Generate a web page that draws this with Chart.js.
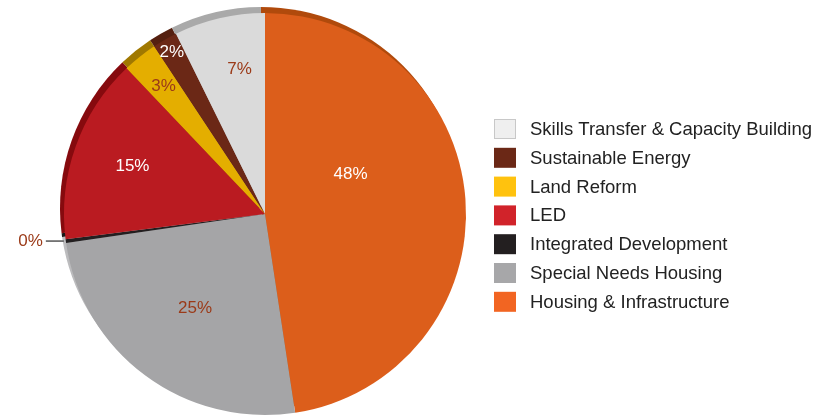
<!DOCTYPE html>
<html>
<head>
<meta charset="utf-8">
<script src="https://cdn.jsdelivr.net/npm/chart.js@4"></script>
<style>
  html, body { margin: 0; padding: 0; background: #fff; }
  #wrap { width: 829px; height: 416px; position: relative; }
</style>
</head>
<body>
<div id="wrap"><canvas id="pieChart" width="829" height="416"></canvas></div>
<script>
// data, clockwise from 12 o'clock
const labels = ['Housing & Infrastructure', 'Special Needs Housing', 'Integrated Development',
                'LED', 'Land Reform', 'Sustainable Energy', 'Skills Transfer & Capacity Building'];
const values = [47.6, 25.1, 0.3, 14.9, 2.8, 2.0, 7.3];
const pctText = ['48%', '25%', '0%', '15%', '3%', '2%', '7%'];

// colours
const faceColors = ['#dc5e1b', '#a5a5a7', '#231f20', '#ba1b21', '#e4ae00', '#6b2816', '#dadada'];
const edgeColors = ['#b04a0c', '#bcbcbe', '#1a1717', '#860a0e', '#a07800', '#552010', '#a9a9a9'];
const legendColors = ['#f26522', '#a7a7a9', '#231f20', '#d1232a', '#ffc20e', '#6b2816', '#efefef'];
const labelColors = ['#ffffff', '#9b3a18', '#9b3a18', '#ffffff', '#9b3a18', '#ffffff', '#9b3a18'];
// label placement: fraction of radius, and angle (deg from top) override or null for mid
const labelFrac = [0.47, 0.585, 0, 0.70, 0.81, 0.93, 0.73];
const labelAngle = [65, null, null, null, null, null, 350];

const pieExtras = {
  id: 'pieExtras',
  beforeDatasetsDraw(chart) {
    // darker rim offset up-left
    const c = chart.ctx;
    const arcs = chart.getDatasetMeta(0).data;
    arcs.forEach((a, i) => {
      const p = a.getProps(['x', 'y', 'startAngle', 'endAngle', 'outerRadius'], true);
      const cx = p.x - 4, cy = p.y - 6;
      c.save();
      c.beginPath();
      c.moveTo(cx, cy);
      c.arc(cx, cy, p.outerRadius, p.startAngle, p.endAngle);
      c.closePath();
      c.fillStyle = edgeColors[i];
      c.fill();
      c.restore();
    });
  },
  afterDatasetsDraw(chart) {
    const c = chart.ctx;
    const arcs = chart.getDatasetMeta(0).data;
    c.save();
    c.font = '17px "Liberation Sans", Arial, sans-serif';
    c.textBaseline = 'middle';
    arcs.forEach((a, i) => {
      const p = a.getProps(['x', 'y', 'startAngle', 'endAngle', 'outerRadius'], true);
      let ang = (p.startAngle + p.endAngle) / 2;
      if (labelAngle[i] !== null) ang = (labelAngle[i] - 90) * Math.PI / 180;
      if (labelFrac[i] === 0) {
        // tiny slice: label outside with leader line
        const ex = p.x + Math.cos(ang) * p.outerRadius;
        const ey = p.y + Math.sin(ang) * p.outerRadius;
        c.strokeStyle = '#555';
        c.lineWidth = 1.5;
        c.beginPath();
        c.moveTo(ex - 2, ey);
        c.lineTo(ex - 20, ey);
        c.stroke();
        c.fillStyle = labelColors[i];
        c.textAlign = 'right';
        c.fillText(pctText[i], ex - 23, ey);
        return;
      }
      const tx = p.x + Math.cos(ang) * p.outerRadius * labelFrac[i];
      const ty = p.y + Math.sin(ang) * p.outerRadius * labelFrac[i];
      c.fillStyle = labelColors[i];
      c.textAlign = 'center';
      c.fillText(pctText[i], tx, ty);
    });
    c.restore();

    // legend (reverse order)
    c.save();
    c.font = '18.5px "Liberation Sans", Arial, sans-serif';
    c.textBaseline = 'middle';
    c.textAlign = 'left';
    const lx = 494, ly = 119, step = 28.8;
    for (let k = 0; k < labels.length; k++) {
      const i = labels.length - 1 - k;
      const y = ly + k * step;
      c.fillStyle = legendColors[i];
      c.fillRect(lx, y, 22, 20);
      if (i === labels.length - 1) {
        c.strokeStyle = '#c8c8c8';
        c.lineWidth = 1;
        c.strokeRect(lx + 0.5, y + 0.5, 21, 19);
      }
      c.fillStyle = '#222';
      c.fillText(labels[i], lx + 36, y + 11);
    }
    c.restore();
  }
};

new Chart(document.getElementById('pieChart'), {
  type: 'pie',
  data: {
    labels: labels,
    datasets: [{
      data: values,
      backgroundColor: faceColors,
      borderWidth: 0
    }]
  },
  options: {
    responsive: false,
    animation: false,
    layout: { padding: { left: 64, right: 363, top: 13, bottom: 1 } },
    plugins: {
      legend: { display: false },
      tooltip: { enabled: false }
    }
  },
  plugins: [pieExtras]
});
</script>
</body>
</html>
